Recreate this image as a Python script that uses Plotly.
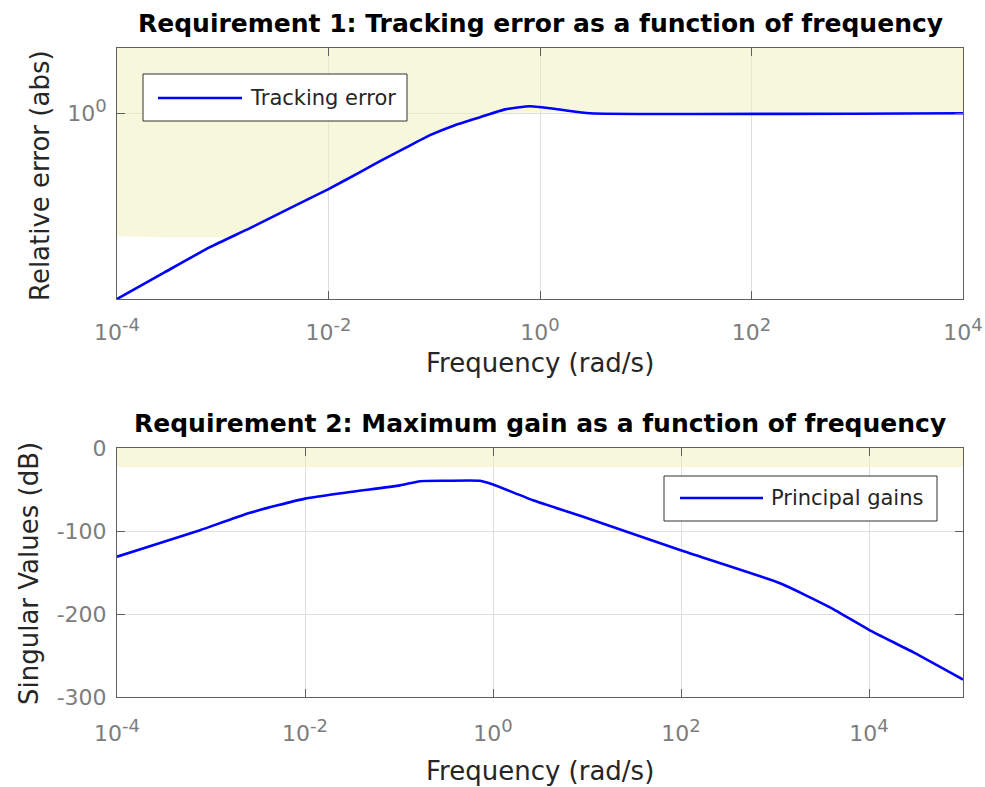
import plotly.graph_objects as go

W, H = 985, 787

# ---------------- data ----------------
# Requirement 1: tracking error (relative, abs) vs frequency (rad/s)
track_freq = [1.0e-4, 2.84e-4, 7.57e-4, 1.81e-3, 4.33e-3, 1.0e-2, 1.99e-2, 3.07e-2,
              5.28e-2, 9.12e-2, 0.157, 0.271, 0.467, 0.804, 1.245, 1.72, 2.97, 1.0e4]
track_err = [0.139, 0.185, 0.241, 0.295, 0.365, 0.447, 0.535, 0.601,
             0.690, 0.792, 0.881, 0.959, 1.042, 1.077, 1.054, 1.032, 1.0, 1.0]

# boundary of the shaded (violating) region for requirement 1
bound_freq = [1.0e-4, 1.26e-3, 1.81e-3, 4.33e-3, 1.0e-2, 1.99e-2, 3.07e-2,
              5.28e-2, 9.12e-2, 0.157, 0.271, 0.42, 1.0e4]
bound_err = [0.271, 0.271, 0.295, 0.365, 0.447, 0.535, 0.601,
             0.690, 0.792, 0.881, 0.959, 1.0, 1.0]
err_top = 2.0

# Requirement 2: principal gains (dB) vs frequency (rad/s)
gain_freq = [1.0e-4, 3.16e-4, 7.64e-4, 2.6e-3, 1.0e-2, 3.01e-2, 0.1026, 0.167, 0.316,
             0.728, 1.0, 2.67, 8.63, 97.5, 1130, 3850, 1.0e4, 2.94e4, 1.0e5]
gain_db = [-131, -113, -99, -78, -61, -53, -45, -40, -39.5,
           -39.5, -44, -63, -82, -123, -163, -192, -219, -246, -279]
maxgain_db = -23
gain_top = 0
gain_bottom = -300

freq_ticks = [1e-4, 1e-2, 1e0, 1e2, 1e4]
freq_exps = ["-4", "-2", "0", "2", "4"]
err_ticks = [1e0]
err_exps = ["0"]
db_ticks = [-300, -200, -100, 0]
db_ticktext = ["-300", "-200", "-100", "0"]

titles = ["Requirement 1: Tracking error as a function of frequency",
          "Requirement 2: Maximum gain as a function of frequency"]
xlabel = "Frequency (rad/s)"
ylabels = ["Relative error (abs)", "Singular Values (dB)"]
legend_names = ["Tracking error", "Principal gains"]

# ---------------- styling ----------------
FONT = "DejaVu Sans, Verdana, sans-serif"
BLUE = "#0000ff"
SHADE = "rgba(239,239,185,0.5)"
GRID = "#dedede"
AXIS = "#5f5f5f"
TICKC = "#7d7d7d"
LABELC = "#262626"
TICKSIZE = 22


def px_x(p):
    return p / W


def px_y(p):
    return 1 - p / H


def pow10(e):
    return "10<sup><span style='font-size:%dpx'>%s</span></sup>" % (TICKSIZE - 4, e)


fig = go.Figure()

# shaded region requirement 1: lower boundary (spline) then fill up to the top
fig.add_trace(go.Scatter(
    x=bound_freq, y=bound_err, mode="lines",
    line=dict(width=0, shape="spline", smoothing=0.5),
    hoverinfo="skip", showlegend=False, xaxis="x", yaxis="y"))
fig.add_trace(go.Scatter(
    x=[bound_freq[0], bound_freq[-1]], y=[err_top, err_top], mode="lines",
    fill="tonexty", fillcolor=SHADE, line=dict(width=0),
    hoverinfo="skip", showlegend=False, xaxis="x", yaxis="y"))
fig.add_trace(go.Scatter(
    x=track_freq, y=track_err, mode="lines", name=legend_names[0],
    line=dict(color=BLUE, width=2.6, shape="spline", smoothing=0.5),
    showlegend=False, xaxis="x", yaxis="y"))

# shaded region requirement 2
fig.add_trace(go.Scatter(
    x=[gain_freq[0], gain_freq[-1], gain_freq[-1], gain_freq[0]],
    y=[maxgain_db, maxgain_db, gain_top, gain_top],
    fill="toself", fillcolor=SHADE, line=dict(width=0), mode="lines",
    hoverinfo="skip", showlegend=False, xaxis="x2", yaxis="y2"))
fig.add_trace(go.Scatter(
    x=gain_freq, y=gain_db, mode="lines", name=legend_names[1],
    line=dict(color=BLUE, width=2.6, shape="spline", smoothing=0.5),
    showlegend=False, xaxis="x2", yaxis="y2"))

common_axis = dict(
    showline=True, linecolor=AXIS, linewidth=1, mirror="ticks",
    ticks="inside", ticklen=8, tickcolor=AXIS, tickwidth=1,
    showgrid=True, gridcolor=GRID, gridwidth=1, zeroline=False,
    tickfont=dict(family=FONT, size=TICKSIZE, color=TICKC),
)

fig.update_layout(
    width=W, height=H,
    margin=dict(l=0, r=0, t=0, b=0, autoexpand=False),
    paper_bgcolor="white", plot_bgcolor="white",
    showlegend=False,
    xaxis=dict(type="log", range=[-4, 4], domain=[px_x(117), px_x(963)],
               anchor="y", tickvals=freq_ticks, ticktext=[pow10(e) for e in freq_exps],
               ticklabelstandoff=14, **common_axis),
    yaxis=dict(type="log", range=[-0.857, 0.301], domain=[px_y(299), px_y(48)],
               anchor="x", tickvals=err_ticks, ticktext=[pow10(e) for e in err_exps],
               ticklabelstandoff=5, **common_axis),
    xaxis2=dict(type="log", range=[-4, 5], domain=[px_x(117), px_x(963)],
                anchor="y2", tickvals=freq_ticks, ticktext=[pow10(e) for e in freq_exps],
                ticklabelstandoff=17, **common_axis),
    yaxis2=dict(range=[gain_bottom, gain_top], domain=[px_y(697), px_y(448)],
                anchor="x2", tickvals=db_ticks, ticktext=db_ticktext,
                ticklabelstandoff=5, **common_axis),
)

ann = []
# titles
ann.append(dict(text="<b>" + titles[0] + "</b>", x=px_x(540), y=px_y(23),
                font=dict(family=FONT, size=25, color="black")))
ann.append(dict(text="<b>" + titles[1] + "</b>", x=px_x(540), y=px_y(423),
                font=dict(family=FONT, size=25, color="black")))
# x labels
ann.append(dict(text=xlabel, x=px_x(540), y=px_y(363),
                font=dict(family=FONT, size=26, color=LABELC)))
ann.append(dict(text=xlabel, x=px_x(540), y=px_y(771),
                font=dict(family=FONT, size=26, color=LABELC)))
# y labels
ann.append(dict(text=ylabels[0], x=px_x(40), y=px_y(176), textangle=-90,
                font=dict(family=FONT, size=26, color=LABELC)))
ann.append(dict(text=ylabels[1], x=px_x(29), y=px_y(574), textangle=-90,
                font=dict(family=FONT, size=26, color=LABELC)))
# legend texts
ann.append(dict(text=legend_names[0], x=px_x(248), y=px_y(98), xanchor="left",
                font=dict(family=FONT, size=21, color="#262626")))
ann.append(dict(text=legend_names[1], x=px_x(769), y=px_y(498), xanchor="left",
                font=dict(family=FONT, size=21, color="#262626")))
for a in ann:
    a.setdefault("xanchor", "center")
    a.update(xref="paper", yref="paper", yanchor="middle", showarrow=False)
fig.update_layout(annotations=ann)

shapes = []
# legend boxes & samples
for (x0, y0, x1, y1), (lx0, lx1, ly) in [((143, 74, 407, 121), (158, 242, 98)),
                                          ((664, 476, 937, 521), (680, 763, 498))]:
    shapes.append(dict(type="rect", xref="paper", yref="paper",
                       x0=px_x(x0), x1=px_x(x1), y0=px_y(y1), y1=px_y(y0),
                       line=dict(color="#333333", width=1), fillcolor="white", layer="above"))
    shapes.append(dict(type="line", xref="paper", yref="paper",
                       x0=px_x(lx0), x1=px_x(lx1), y0=px_y(ly), y1=px_y(ly),
                       line=dict(color=BLUE, width=2.6), layer="above"))
fig.update_layout(shapes=shapes)

fig.write_html("out.html", config={"displayModeBar": False},
               post_script="document.body.style.margin='0';"
                           "document.body.style.overflow='hidden';")
